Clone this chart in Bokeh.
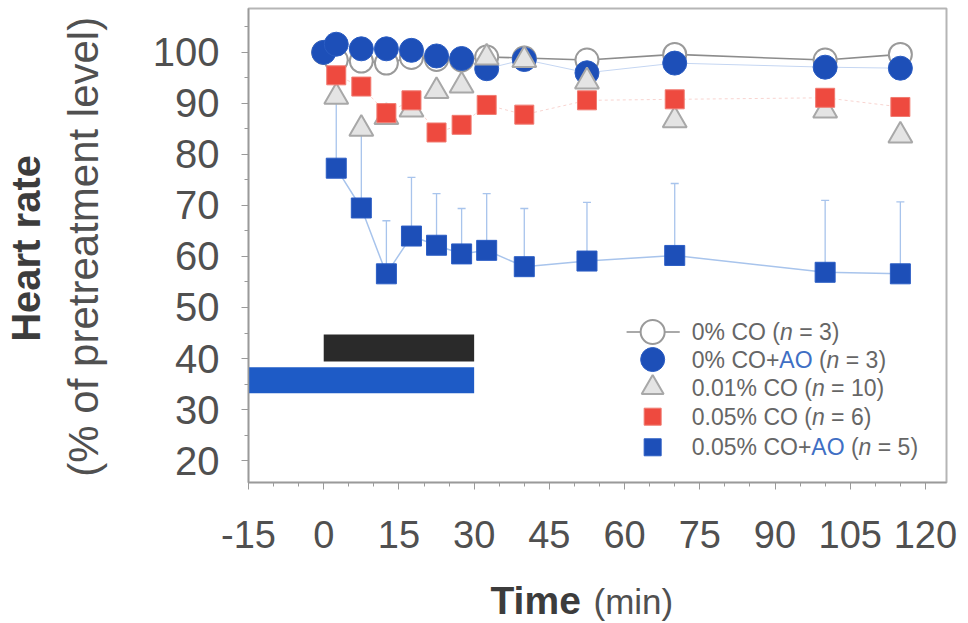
import math
from bokeh.plotting import figure
from bokeh.layouts import row, column
from bokeh.models import Range1d, FixedTicker, Label
from bokeh.core.properties import value
from bokeh.embed import file_html
from bokeh.resources import INLINE

# ---------------- data ----------------
times = [0, 2.5, 7.5, 12.5, 17.5, 22.5, 27.5, 32.5, 40, 52.5, 70, 100, 115]
hr_co0 = [100, 98.5, 98.3, 97.9, 99.0, 98.6, 98.5, 99.1, 98.9, 98.5, 99.6, 98.5, 99.6]
hr_co0_ao = [100, 101.6, 100.7, 100.7, 100.4, 99.3, 98.8, 96.8, 98.6, 96.0, 97.9, 97.1, 96.9]

times_b = [2.5, 7.5, 12.5, 17.5, 22.5, 27.5, 32.5, 40, 52.5, 70, 100, 115]
hr_co001 = [91.3, 85.0, 87.3, 88.8, 92.4, 93.5, 99.0, 98.5, 94.3, 86.7, 88.6, 83.7]
hr_co005 = [95.5, 93.3, 88.1, 90.6, 84.3, 85.8, 89.7, 87.8, 90.6, 90.8, 91.1, 89.3]
hr_co005_ao = [77.3, 69.5, 56.6, 64.0, 62.2, 60.5, 61.2, 58.0, 59.1, 60.2, 56.9, 56.6]
err_co005_ao = [13.7, 14.5, 10.4, 11.5, 10.1, 8.9, 11.1, 11.4, 11.5, 14.1, 14.1, 14.1]

exposure_names = ["CO", "AO"]
exposure_start = [0, -15]
exposure_end = [30, 30]
exposure_low = [39.4, 33.2]
exposure_high = [44.7, 38.3]

x_ticks = [-15, 0, 15, 30, 45, 60, 75, 90, 105, 120]
x_minor = list(range(-15, 121, 5))
y_ticks = [20, 30, 40, 50, 60, 70, 80, 90, 100]
y_minor = list(range(20, 106, 5))

legend_rows = [
    [("0% CO (", "n"), ("n", "i"), (" = 3)", "n")],
    [("0% CO+", "n"), ("AO", "b"), (" (", "n"), ("n", "i"), (" = 3)", "n")],
    [("0.01% CO (", "n"), ("n", "i"), (" = 10)", "n")],
    [("0.05% CO (", "n"), ("n", "i"), (" = 6)", "n")],
    [("0.05% CO+", "n"), ("AO", "b"), (" (", "n"), ("n", "i"), (" = 5)", "n")],
]

y_title_bold = "Heart rate"
y_title_normal = "(% of pretreatment level)"
x_title_bold = "Time"
x_title_normal = "(min)"

# ---------------- styles / layout ----------------
FONT = "Liberation Sans"
GRAY_TXT = "#505050"
C_BLUE = "#1d4fb8"
C_RED = "#ee4a3f"
C_LBLUE = "#a8c4ec"

TOTAL_W, TOTAL_H = 966, 621
LEFT_W = 112
MAIN_H = 575

p = figure(width=TOTAL_W - LEFT_W, height=MAIN_H,
           x_range=Range1d(-15, 124.2), y_range=Range1d(15.7, 108.6),
           output_backend="svg", toolbar_location=None,
           min_border_left=248 - LEFT_W, min_border_right=TOTAL_W - 946,
           min_border_top=8, min_border_bottom=MAIN_H - 482)
p.xgrid.visible = False
p.ygrid.visible = False
p.outline_line_color = "#b5b5b5"
p.outline_line_width = 2
p.background_fill_color = "white"
p.border_fill_color = "white"

for ax in (p.xaxis[0], p.yaxis[0]):
    ax.axis_line_color = "#9a9a9a"
    ax.axis_line_width = 1.5
    ax.major_tick_line_color = "#9a9a9a"
    ax.minor_tick_line_color = "#9a9a9a"
    ax.major_tick_in = 0
    ax.major_tick_out = 7
    ax.minor_tick_in = 0
    ax.minor_tick_out = 4
    ax.major_label_text_font = FONT
    ax.major_label_text_color = GRAY_TXT

p.xaxis.ticker = FixedTicker(ticks=x_ticks, minor_ticks=x_minor)
p.yaxis.ticker = FixedTicker(ticks=y_ticks, minor_ticks=y_minor)
p.xaxis.major_label_overrides = {-15: "-15"}
p.xaxis.major_label_text_font_size = "38px"
p.yaxis.major_label_text_font_size = "40px"
p.xaxis.major_label_standoff = 31
p.yaxis.major_label_standoff = 22

# exposure bars
p.quad(left=exposure_start, right=exposure_end, bottom=exposure_low, top=exposure_high,
       fill_color=["#2a2a2a", "#1e5bc6"], line_color=None)

# connecting lines
p.line(times_b, hr_co005, line_color="#f8d4d0", line_width=1, line_dash="3 3")
p.line(times, hr_co0_ao, line_color="#c5d6f2", line_width=1)
p.line(times_b, hr_co005_ao, line_color=C_LBLUE, line_width=1.5)
p.line(times, hr_co0, line_color="#8c8c8c", line_width=1.6)

# error bars (upper) for 0.05% CO + AO
tops = [m + e for m, e in zip(hr_co005_ao, err_co005_ao)]
p.segment(x0=times_b, y0=hr_co005_ao, x1=times_b, y1=tops, line_color=C_LBLUE, line_width=1.3)
p.scatter(times_b, tops, marker="dash", size=8, line_color=C_LBLUE, line_width=1.3)

# markers
p.scatter(times, hr_co0, marker="circle", size=23, fill_color="white", line_color="#9a9a9a", line_width=2)
p.scatter(times, hr_co0_ao, marker="circle", size=24, fill_color=C_BLUE, line_color="#2a5cc2", line_width=1)
p.scatter(times_b, hr_co001, marker="triangle", size=24, fill_color="#e4e4e4", line_color="#a8a8a8", line_width=2)
p.scatter(times_b, hr_co005, marker="square", size=19, fill_color=C_RED, line_color="#f07a70", line_width=1)
p.scatter(times_b, hr_co005_ao, marker="square", size=20, fill_color=C_BLUE, line_color="#2a5cc4", line_width=1)

# ---------------- legend (manual, for mixed styling) ----------------
ARIAL = {'0': 556, '1': 556, '2': 556, '3': 556, '4': 556, '5': 556, '6': 556, '7': 556,
         '8': 556, '9': 556, '%': 889, ' ': 278, 'C': 722, 'O': 778, 'A': 667, '+': 584,
         '(': 333, ')': 333, 'n': 556, '=': 584, '.': 278}


def tw(s, size):
    return sum(ARIAL.get(c, 556) for c in s) * size / 1000.0


LEG_SIZE = 23
leg_marker_x = 65.6
leg_text_x = 73.4
leg_line_x = (60.4, 71.0)
leg_y = [45.2, 39.8, 34.3, 28.6, 22.6]

p.line(list(leg_line_x), [leg_y[0], leg_y[0]], line_color="#8c8c8c", line_width=1.6)
p.scatter([leg_marker_x], [leg_y[0]], marker="circle", size=24, fill_color="white", line_color="#9a9a9a", line_width=2)
p.scatter([leg_marker_x], [leg_y[1]], marker="circle", size=24, fill_color=C_BLUE, line_color="#2a5cc2")
p.scatter([leg_marker_x], [leg_y[2]], marker="triangle", size=22, fill_color="#e4e4e4", line_color="#a8a8a8", line_width=2)
p.scatter([leg_marker_x], [leg_y[3]], marker="square", size=17, fill_color=C_RED, line_color="#f07a70")
p.scatter([leg_marker_x], [leg_y[4]], marker="square", size=17, fill_color=C_BLUE, line_color="#2a5cc4")

for row_items, yv in zip(legend_rows, leg_y):
    off = 0.0
    for s, st in row_items:
        lead = len(s) - len(s.lstrip())
        txt = s.strip()
        lab = Label(x=leg_text_x, y=yv, x_offset=off + tw(" " * lead, LEG_SIZE), text=txt,
                    text_font=FONT, text_font_size=f"{LEG_SIZE}px", text_baseline="middle",
                    text_align="left",
                    text_color="#3f6fc4" if st == "b" else "#666666",
                    text_font_style="italic" if st == "i" else "normal")
        p.add_layout(lab)
        off += tw(s, LEG_SIZE)


# ---------------- axis titles in side strips ----------------
def strip(w, h, y_top):
    f = figure(width=w, height=h, x_range=Range1d(0, w), y_range=Range1d(y_top + h, y_top),
               output_backend="svg", toolbar_location=None, x_axis_type=None, y_axis_type=None,
               min_border=0, outline_line_color=None)
    f.xgrid.visible = False
    f.ygrid.visible = False
    f.background_fill_color = "white"
    f.border_fill_color = "white"
    return f


left = strip(LEFT_W, MAIN_H, 0)
left.text(x=[25], y=[291], text=[y_title_bold], angle=math.pi / 2, text_align="center",
          text_baseline="alphabetic", text_font=value(FONT), text_font_size="40px",
          text_font_style="bold", text_color="#3c3c3c")
left.text(x=[83], y=[289], text=[y_title_normal], angle=math.pi / 2, text_align="center",
          text_baseline="alphabetic", text_font=value(FONT), text_font_size="42px",
          text_color=GRAY_TXT)

bottom = strip(TOTAL_W, TOTAL_H - MAIN_H, MAIN_H)
bottom.text(x=[490], y=[600], text=[x_title_bold], text_align="left", text_baseline="alphabetic",
            text_font=value(FONT), text_font_size="39px", text_font_style="bold", text_color="#3c3c3c")
bottom.text(x=[593], y=[601], text=[x_title_normal], text_align="left", text_baseline="alphabetic",
            text_font=value(FONT), text_font_size="35px", text_color=GRAY_TXT)

layout = column(row(left, p, spacing=0), bottom, spacing=0)

open("out.html", "w").write(file_html(layout, INLINE))
